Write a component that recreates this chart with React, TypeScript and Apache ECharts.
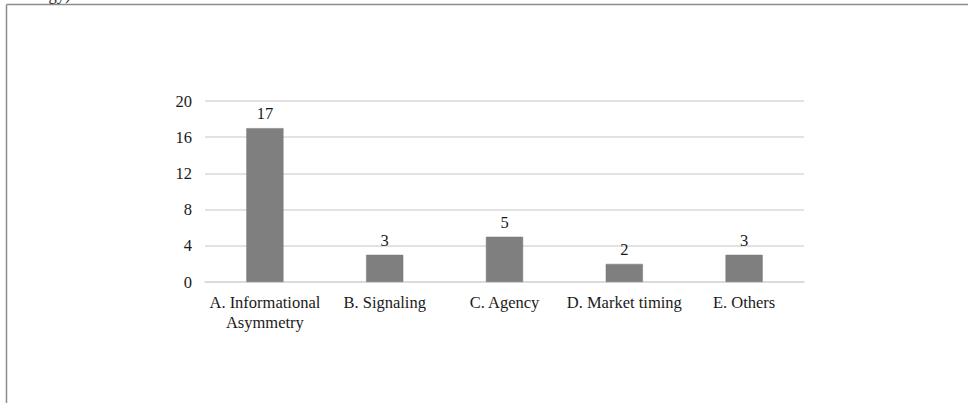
import React, { useEffect, useRef } from "react";
import * as echarts from "echarts";

const categories = ["A. Informational\nAsymmetry", "B. Signaling", "C. Agency", "D. Market timing", "E. Others"];
const values = [17, 3, 5, 2, 3];
const yTicks = { min: 0, max: 20, interval: 4 };

const FONT = "'Liberation Serif', 'Times New Roman', serif";

export default function App() {
  const ref = useRef<HTMLDivElement>(null);
  useEffect(() => {
    if (!ref.current) return;
    const chart = echarts.init(ref.current, null, { renderer: "svg" });
    chart.setOption({
      animation: false,
      backgroundColor: "#ffffff",
      textStyle: { fontFamily: FONT },
      grid: { left: 205, right: 164, top: 101, bottom: 121, containLabel: false },
      xAxis: {
        type: "category",
        data: categories,
        axisTick: { show: false },
        axisLine: { show: true, lineStyle: { color: "#d9d9d9", width: 1.5 } },
        axisLabel: { color: "#1a1a1a", fontSize: 16.5, fontFamily: FONT, margin: 10, lineHeight: 20, interval: 0 },
      },
      yAxis: {
        type: "value",
        min: yTicks.min,
        max: yTicks.max,
        interval: yTicks.interval,
        axisLine: { show: false },
        axisTick: { show: false },
        axisLabel: { color: "#1a1a1a", fontSize: 16.5, fontFamily: FONT, margin: 13 },
        splitLine: { lineStyle: { color: "#d9d9d9", width: 1.5 } },
      },
      series: [
        {
          type: "bar",
          data: values,
          barWidth: "31%",
          itemStyle: { color: "#7f7f7f", borderColor: "#767676", borderWidth: 0.5 },
          label: { show: true, position: "top", color: "#1a1a1a", fontSize: 16.5, fontFamily: FONT, distance: 6 },
        },
      ],
      graphic: [
        { type: "line", shape: { x1: 6.5, y1: 4.5, x2: 968, y2: 4.5 }, style: { stroke: "#8c8c8c", lineWidth: 1.5 } },
        { type: "line", shape: { x1: 6.5, y1: 4.5, x2: 6.5, y2: 403 }, style: { stroke: "#8c8c8c", lineWidth: 1.5 } },
        { type: "text", left: 10, top: -14, style: { text: "Strategy)", fontSize: 16.5, fontFamily: FONT, fill: "#1a1a1a" } },
      ],
    });
    return () => chart.dispose();
  }, []);
  return <div ref={ref} style={{ position: "fixed", left: 0, top: 0, width: 968, height: 403 }} />;
}
